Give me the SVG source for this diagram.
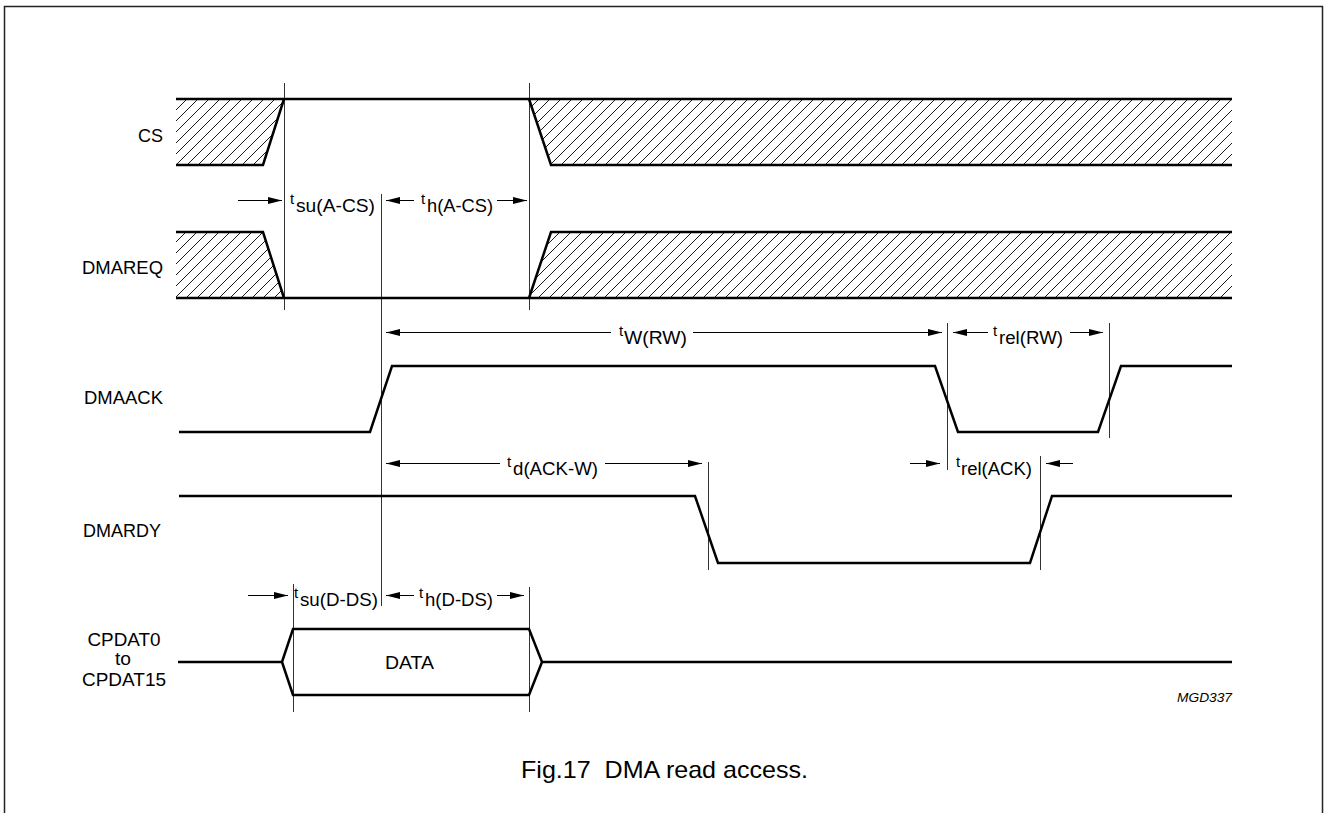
<svg xmlns="http://www.w3.org/2000/svg" width="1326" height="813" viewBox="0 0 1326 813">
<style>
.sig{fill:none;stroke:#000;stroke-width:2.5;stroke-linejoin:miter}
.ref{stroke:#333;stroke-width:1;fill:none}
.arr{stroke:#000;stroke-width:1;fill:none}
.lbl{font-family:"Liberation Sans",Arial,sans-serif;font-size:18.5px;fill:#000}
.t{font-family:"Liberation Sans",Arial,sans-serif;font-size:15px;fill:#000}
.sub{font-family:"Liberation Sans",Arial,sans-serif;font-size:17.5px;fill:#000}
.hatch{fill:url(#hatch);stroke:none}
</style>
<defs>
<pattern id="hatch" patternUnits="userSpaceOnUse" width="11" height="11">
<path d="M-1,1 L1,-1 M0,11 L11,0 M10,12 L12,10" stroke="#000" stroke-width="0.9"/>
</pattern>
<marker id="ah" markerUnits="userSpaceOnUse" markerWidth="14" markerHeight="7" refX="14" refY="3.5" orient="auto">
<path d="M0,0 L14,3.5 L0,7 z" fill="#000"/>
</marker>
</defs>
<rect x="4.5" y="6.5" width="1318" height="830" fill="none" stroke="#222" stroke-width="1.5"/>

<g id="ref-lines">
<line class="ref" x1="284.5" y1="83" x2="284.5" y2="310"/>
<line class="ref" x1="529.5" y1="83" x2="529.5" y2="310"/>
<line class="ref" x1="381.5" y1="194" x2="381.5" y2="606"/>
<line class="ref" x1="947.5" y1="323" x2="947.5" y2="470"/>
<line class="ref" x1="1109.5" y1="323" x2="1109.5" y2="438"/>
<line class="ref" x1="708.5" y1="462" x2="708.5" y2="570"/>
<line class="ref" x1="1040.5" y1="456" x2="1040.5" y2="570"/>
<line class="ref" x1="293.5" y1="584" x2="293.5" y2="712"/>
<line class="ref" x1="529.5" y1="587" x2="529.5" y2="712"/>
</g>

<g id="CS">
<text class="lbl" x="163" y="142" text-anchor="end" textLength="25" lengthAdjust="spacingAndGlyphs">CS</text>
<polygon class="hatch" points="176,99 284,99 263,165 176,165"/>
<polygon class="hatch" points="529,99 1232,99 1232,165 551,165"/>
<path class="sig" d="M176,99 H1232 M176,165 H263 L284,99 M529,99 L551,165 H1232"/>
</g>

<g id="DMAREQ">
<text class="lbl" x="163" y="274" text-anchor="end" textLength="81" lengthAdjust="spacingAndGlyphs">DMAREQ</text>
<polygon class="hatch" points="176,232 263,232 284,298 176,298"/>
<polygon class="hatch" points="551,232 1232,232 1232,298 529,298"/>
<path class="sig" d="M176,298 H1232 M176,232 H263 L284,298 M529,298 L551,232 H1232"/>
</g>

<g id="DMAACK">
<text class="lbl" x="163" y="404" text-anchor="end" textLength="79" lengthAdjust="spacingAndGlyphs">DMAACK</text>
<path class="sig" d="M179,432 H370 L392,366 H935 L958,432 H1098 L1121,366 H1232"/>
</g>

<g id="DMARDY">
<text class="lbl" x="161" y="537" text-anchor="end" textLength="78" lengthAdjust="spacingAndGlyphs">DMARDY</text>
<path class="sig" d="M179,496 H695 L718,563 H1030 L1052,496 H1232"/>
</g>

<g id="CPDAT">
<text class="lbl" x="124" y="646" text-anchor="middle" textLength="73" lengthAdjust="spacingAndGlyphs">CPDAT0</text>
<text class="lbl" x="123" y="665" text-anchor="middle" textLength="16" lengthAdjust="spacingAndGlyphs">to</text>
<text class="lbl" x="124" y="686" text-anchor="middle" textLength="84" lengthAdjust="spacingAndGlyphs">CPDAT15</text>
<path class="sig" d="M178,662 H282 L293,629 H529 L542,662 H1232 M282,662 L293,695 H529 L542,662"/>
<text class="lbl" x="409.5" y="669" text-anchor="middle" textLength="49" lengthAdjust="spacingAndGlyphs">DATA</text>
</g>

<g id="connectors">
<line class="arr" x1="238" y1="200.5" x2="282" y2="200.5" marker-end="url(#ah)"/>
<line class="arr" x1="414" y1="200.5" x2="386" y2="200.5" marker-end="url(#ah)"/>
<line class="arr" x1="497" y1="200.5" x2="527" y2="200.5" marker-end="url(#ah)"/>

<line class="arr" x1="611" y1="332.5" x2="386" y2="332.5" marker-end="url(#ah)"/>
<line class="arr" x1="693" y1="332.5" x2="942" y2="332.5" marker-end="url(#ah)"/>
<line class="arr" x1="988" y1="332.5" x2="953" y2="332.5" marker-end="url(#ah)"/>
<line class="arr" x1="1070" y1="332.5" x2="1103" y2="332.5" marker-end="url(#ah)"/>

<line class="arr" x1="500" y1="463.5" x2="386" y2="463.5" marker-end="url(#ah)"/>
<line class="arr" x1="605" y1="463.5" x2="702" y2="463.5" marker-end="url(#ah)"/>
<line class="arr" x1="910" y1="463.5" x2="940" y2="463.5" marker-end="url(#ah)"/>
<line class="arr" x1="1073" y1="463.5" x2="1046" y2="463.5" marker-end="url(#ah)"/>

<line class="arr" x1="248" y1="595.5" x2="288" y2="595.5" marker-end="url(#ah)"/>
<line class="arr" x1="414" y1="595.5" x2="386" y2="595.5" marker-end="url(#ah)"/>
<line class="arr" x1="497" y1="595.5" x2="524" y2="595.5" marker-end="url(#ah)"/>
</g>

<g id="timing-labels">
<text class="t" x="290" y="204">t</text><text class="sub" x="296" y="212" textLength="79" lengthAdjust="spacingAndGlyphs">su(A-CS)</text>
<text class="t" x="421" y="204">t</text><text class="sub" x="427" y="212" textLength="66" lengthAdjust="spacingAndGlyphs">h(A-CS)</text>
<text class="t" x="619" y="336">t</text><text class="sub" x="624" y="344" textLength="63" lengthAdjust="spacingAndGlyphs">W(RW)</text>
<text class="t" x="993" y="336">t</text><text class="sub" x="999" y="344" textLength="64" lengthAdjust="spacingAndGlyphs">rel(RW)</text>
<text class="t" x="507" y="467">t</text><text class="sub" x="513" y="475" textLength="85" lengthAdjust="spacingAndGlyphs">d(ACK-W)</text>
<text class="t" x="956" y="467">t</text><text class="sub" x="961" y="475" textLength="71" lengthAdjust="spacingAndGlyphs">rel(ACK)</text>
<text class="t" x="294" y="598">t</text><text class="sub" x="300" y="606" textLength="78" lengthAdjust="spacingAndGlyphs">su(D-DS)</text>
<text class="t" x="419" y="598">t</text><text class="sub" x="425" y="606" textLength="68" lengthAdjust="spacingAndGlyphs">h(D-DS)</text>
</g>

<text x="1232" y="702" text-anchor="end" font-family="Liberation Sans, Arial, sans-serif" font-size="13.5" font-style="italic" textLength="55" lengthAdjust="spacingAndGlyphs">MGD337</text>
<text x="521" y="778" font-family="Liberation Sans, Arial, sans-serif" font-size="24" xml:space="preserve" textLength="287" lengthAdjust="spacingAndGlyphs">Fig.17  DMA read access.</text>
</svg>
